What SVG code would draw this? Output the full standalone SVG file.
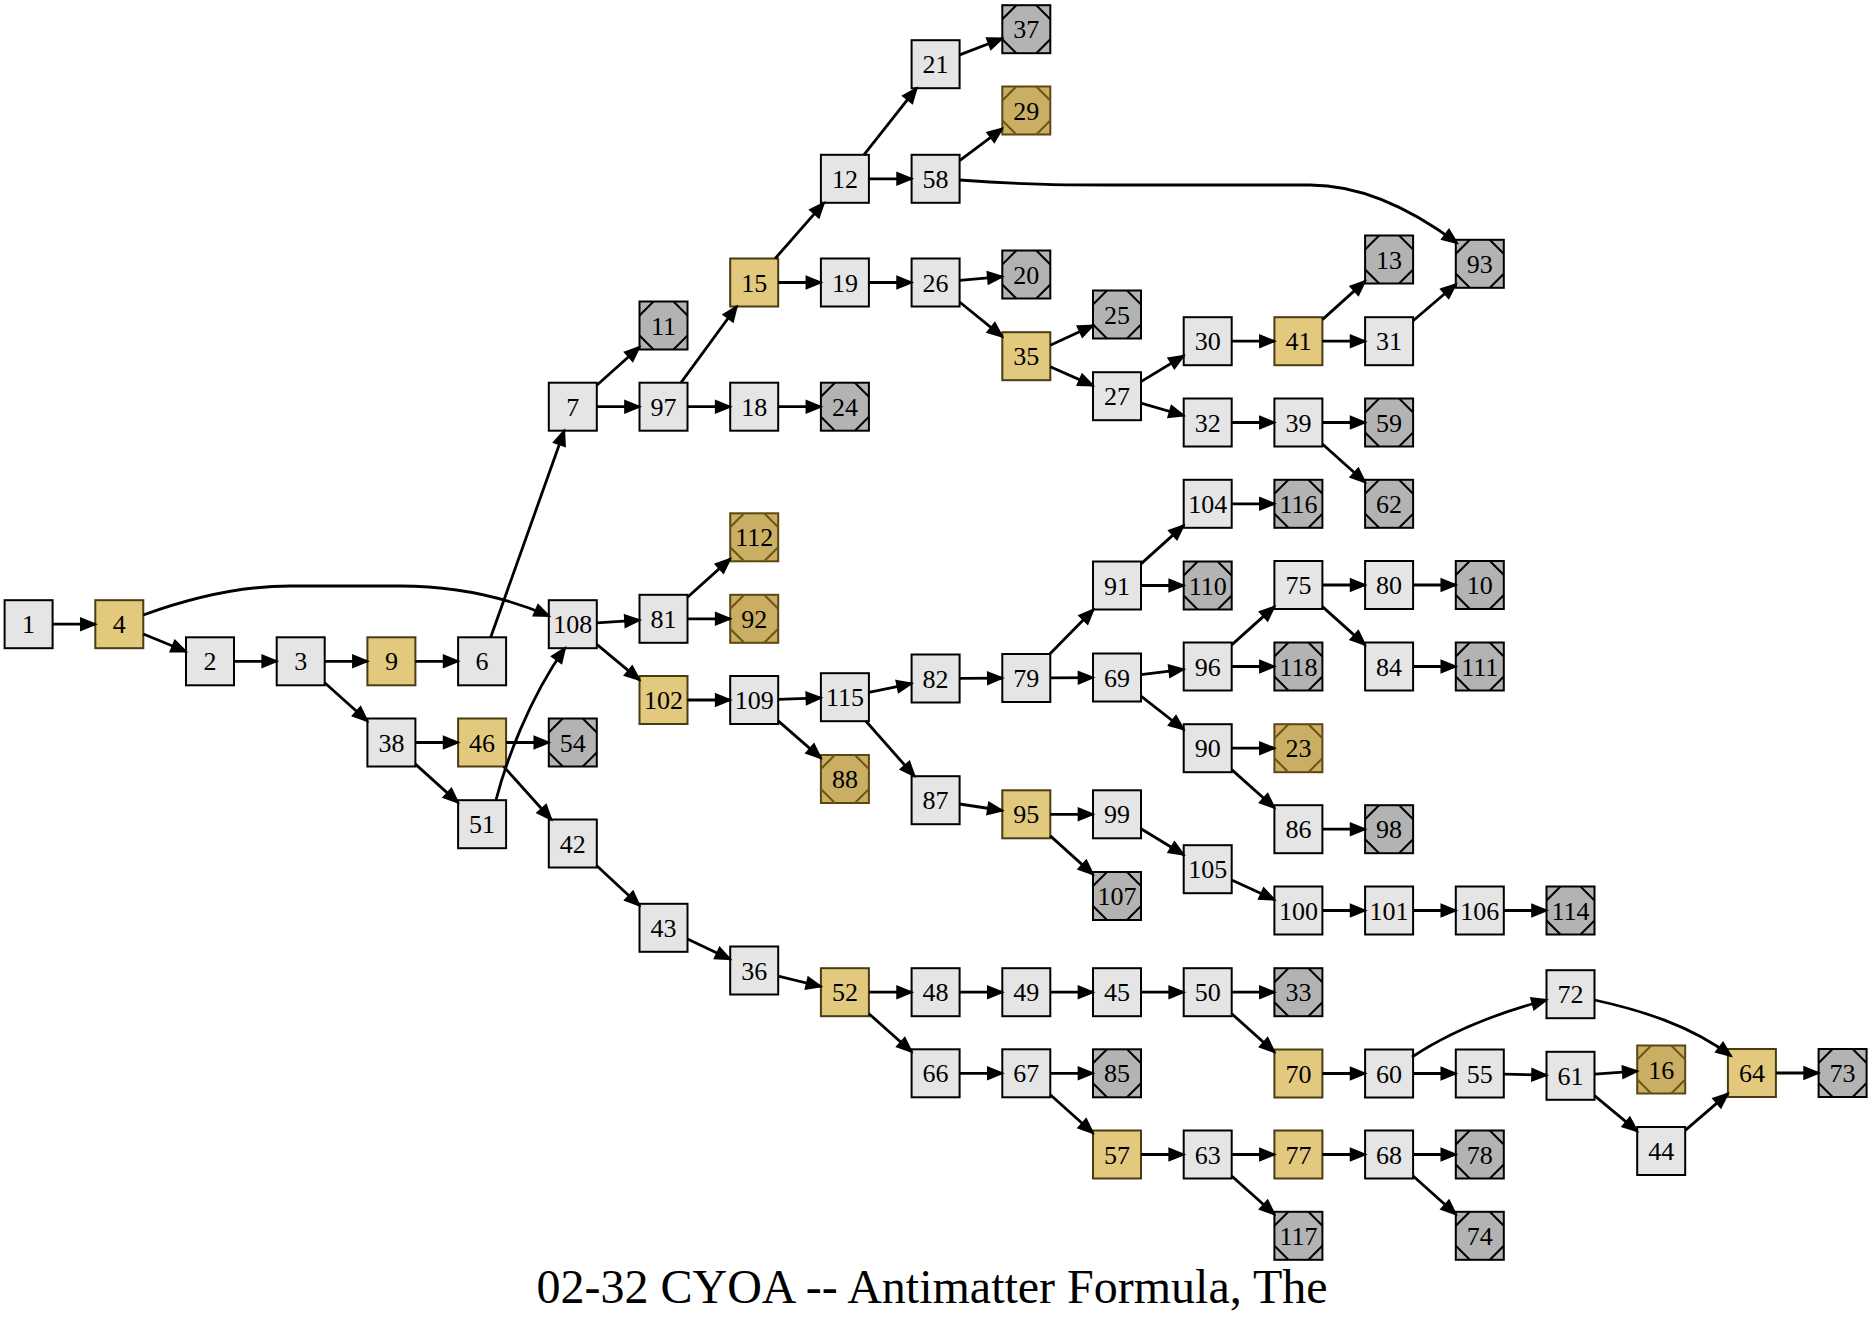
<svg xmlns="http://www.w3.org/2000/svg" width="1872" height="1324" viewBox="0 0 1872 1324">
<defs>
<style>
.b{fill:#e5e5e5;stroke:#000;stroke-width:2}
.y .b{fill:#e2c97e;stroke:#4a3c12}
.g .b{fill:#b3b3b3}
.o .b{fill:#c9ae63;stroke:#5c4712}
.d{fill:none;stroke:#000;stroke-width:2}
.o .d{stroke:#6e5418}
text{font-family:"Liberation Serif","Times New Roman",serif;font-size:26px;text-anchor:middle;fill:#000}
.e{fill:none;stroke:#000;stroke-width:2.8;marker-end:url(#ah)}
</style>
<marker id="ah" markerUnits="userSpaceOnUse" markerWidth="30" markerHeight="20" viewBox="-20 -10 30 20" refX="0" refY="0" orient="auto" overflow="visible">
<path d="M-14,-5.3 L-1,0 L-14,5.3 Z" fill="#000" stroke="#000" stroke-width="2.67"/>
</marker>
<path id="oc" d="M-24,-10 L-10,-24 M10,-24 L24,-10 M24,10 L10,24 M-10,24 L-24,10"/>
</defs>
<rect width="1872" height="1324" fill="#fff"/>
<g id="nodes">
<g id="n1" transform="translate(28.6,624.2)"><rect class="b" x="-24" y="-24" width="48" height="48"/><text y="9">1</text></g>
<g id="n4" class="y" transform="translate(119.3,624.2)"><rect class="b" x="-24" y="-24" width="48" height="48"/><text y="9">4</text></g>
<g id="n2" transform="translate(210,661.3)"><rect class="b" x="-24" y="-24" width="48" height="48"/><text y="9">2</text></g>
<g id="n3" transform="translate(300.7,661.3)"><rect class="b" x="-24" y="-24" width="48" height="48"/><text y="9">3</text></g>
<g id="n9" class="y" transform="translate(391.4,661.3)"><rect class="b" x="-24" y="-24" width="48" height="48"/><text y="9">9</text></g>
<g id="n38" transform="translate(391.4,742.5)"><rect class="b" x="-24" y="-24" width="48" height="48"/><text y="9">38</text></g>
<g id="n6" transform="translate(482.1,661.3)"><rect class="b" x="-24" y="-24" width="48" height="48"/><text y="9">6</text></g>
<g id="n46" class="y" transform="translate(482.1,742.5)"><rect class="b" x="-24" y="-24" width="48" height="48"/><text y="9">46</text></g>
<g id="n51" transform="translate(482.1,824.2)"><rect class="b" x="-24" y="-24" width="48" height="48"/><text y="9">51</text></g>
<g id="n7" transform="translate(572.8,406.7)"><rect class="b" x="-24" y="-24" width="48" height="48"/><text y="9">7</text></g>
<g id="n108" transform="translate(572.8,624.2)"><rect class="b" x="-24" y="-24" width="48" height="48"/><text y="9">108</text></g>
<g id="n54" class="g" transform="translate(572.8,742.5)"><rect class="b" x="-24" y="-24" width="48" height="48"/><use href="#oc" class="d"/><text y="9">54</text></g>
<g id="n42" transform="translate(572.8,843.5)"><rect class="b" x="-24" y="-24" width="48" height="48"/><text y="9">42</text></g>
<g id="n11" class="g" transform="translate(663.5,325.5)"><rect class="b" x="-24" y="-24" width="48" height="48"/><use href="#oc" class="d"/><text y="9">11</text></g>
<g id="n97" transform="translate(663.5,406.7)"><rect class="b" x="-24" y="-24" width="48" height="48"/><text y="9">97</text></g>
<g id="n81" transform="translate(663.5,618.8)"><rect class="b" x="-24" y="-24" width="48" height="48"/><text y="9">81</text></g>
<g id="n102" class="y" transform="translate(663.5,700)"><rect class="b" x="-24" y="-24" width="48" height="48"/><text y="9">102</text></g>
<g id="n43" transform="translate(663.5,927.8)"><rect class="b" x="-24" y="-24" width="48" height="48"/><text y="9">43</text></g>
<g id="n15" class="y" transform="translate(754.2,282.5)"><rect class="b" x="-24" y="-24" width="48" height="48"/><text y="9">15</text></g>
<g id="n18" transform="translate(754.2,406.7)"><rect class="b" x="-24" y="-24" width="48" height="48"/><text y="9">18</text></g>
<g id="n112" class="o" transform="translate(754.2,537.3)"><rect class="b" x="-24" y="-24" width="48" height="48"/><use href="#oc" class="d"/><text y="9">112</text></g>
<g id="n92" class="o" transform="translate(754.2,618.8)"><rect class="b" x="-24" y="-24" width="48" height="48"/><use href="#oc" class="d"/><text y="9">92</text></g>
<g id="n109" transform="translate(754.2,700)"><rect class="b" x="-24" y="-24" width="48" height="48"/><text y="9">109</text></g>
<g id="n36" transform="translate(754.2,970.5)"><rect class="b" x="-24" y="-24" width="48" height="48"/><text y="9">36</text></g>
<g id="n12" transform="translate(844.9,178.8)"><rect class="b" x="-24" y="-24" width="48" height="48"/><text y="9">12</text></g>
<g id="n19" transform="translate(844.9,282.5)"><rect class="b" x="-24" y="-24" width="48" height="48"/><text y="9">19</text></g>
<g id="n24" class="g" transform="translate(844.9,406.7)"><rect class="b" x="-24" y="-24" width="48" height="48"/><use href="#oc" class="d"/><text y="9">24</text></g>
<g id="n115" transform="translate(844.9,697.2)"><rect class="b" x="-24" y="-24" width="48" height="48"/><text y="9">115</text></g>
<g id="n88" class="o" transform="translate(844.9,779)"><rect class="b" x="-24" y="-24" width="48" height="48"/><use href="#oc" class="d"/><text y="9">88</text></g>
<g id="n52" class="y" transform="translate(844.9,992.2)"><rect class="b" x="-24" y="-24" width="48" height="48"/><text y="9">52</text></g>
<g id="n21" transform="translate(935.6,64.2)"><rect class="b" x="-24" y="-24" width="48" height="48"/><text y="9">21</text></g>
<g id="n58" transform="translate(935.6,178.8)"><rect class="b" x="-24" y="-24" width="48" height="48"/><text y="9">58</text></g>
<g id="n26" transform="translate(935.6,282.5)"><rect class="b" x="-24" y="-24" width="48" height="48"/><text y="9">26</text></g>
<g id="n82" transform="translate(935.6,678.5)"><rect class="b" x="-24" y="-24" width="48" height="48"/><text y="9">82</text></g>
<g id="n87" transform="translate(935.6,800.2)"><rect class="b" x="-24" y="-24" width="48" height="48"/><text y="9">87</text></g>
<g id="n48" transform="translate(935.6,992.2)"><rect class="b" x="-24" y="-24" width="48" height="48"/><text y="9">48</text></g>
<g id="n66" transform="translate(935.6,1073.3)"><rect class="b" x="-24" y="-24" width="48" height="48"/><text y="9">66</text></g>
<g id="n37" class="g" transform="translate(1026.3,29.2)"><rect class="b" x="-24" y="-24" width="48" height="48"/><use href="#oc" class="d"/><text y="9">37</text></g>
<g id="n29" class="o" transform="translate(1026.3,110.5)"><rect class="b" x="-24" y="-24" width="48" height="48"/><use href="#oc" class="d"/><text y="9">29</text></g>
<g id="n20" class="g" transform="translate(1026.3,274.5)"><rect class="b" x="-24" y="-24" width="48" height="48"/><use href="#oc" class="d"/><text y="9">20</text></g>
<g id="n35" class="y" transform="translate(1026.3,356.2)"><rect class="b" x="-24" y="-24" width="48" height="48"/><text y="9">35</text></g>
<g id="n79" transform="translate(1026.3,678)"><rect class="b" x="-24" y="-24" width="48" height="48"/><text y="9">79</text></g>
<g id="n95" class="y" transform="translate(1026.3,814.3)"><rect class="b" x="-24" y="-24" width="48" height="48"/><text y="9">95</text></g>
<g id="n49" transform="translate(1026.3,992.2)"><rect class="b" x="-24" y="-24" width="48" height="48"/><text y="9">49</text></g>
<g id="n67" transform="translate(1026.3,1073.3)"><rect class="b" x="-24" y="-24" width="48" height="48"/><text y="9">67</text></g>
<g id="n25" class="g" transform="translate(1117,314.5)"><rect class="b" x="-24" y="-24" width="48" height="48"/><use href="#oc" class="d"/><text y="9">25</text></g>
<g id="n27" transform="translate(1117,396.2)"><rect class="b" x="-24" y="-24" width="48" height="48"/><text y="9">27</text></g>
<g id="n91" transform="translate(1117,585.5)"><rect class="b" x="-24" y="-24" width="48" height="48"/><text y="9">91</text></g>
<g id="n69" transform="translate(1117,677.5)"><rect class="b" x="-24" y="-24" width="48" height="48"/><text y="9">69</text></g>
<g id="n99" transform="translate(1117,814.3)"><rect class="b" x="-24" y="-24" width="48" height="48"/><text y="9">99</text></g>
<g id="n107" class="g" transform="translate(1117,896)"><rect class="b" x="-24" y="-24" width="48" height="48"/><use href="#oc" class="d"/><text y="9">107</text></g>
<g id="n45" transform="translate(1117,992.2)"><rect class="b" x="-24" y="-24" width="48" height="48"/><text y="9">45</text></g>
<g id="n85" class="g" transform="translate(1117,1073.3)"><rect class="b" x="-24" y="-24" width="48" height="48"/><use href="#oc" class="d"/><text y="9">85</text></g>
<g id="n57" class="y" transform="translate(1117,1154.5)"><rect class="b" x="-24" y="-24" width="48" height="48"/><text y="9">57</text></g>
<g id="n30" transform="translate(1207.7,341.2)"><rect class="b" x="-24" y="-24" width="48" height="48"/><text y="9">30</text></g>
<g id="n32" transform="translate(1207.7,422.5)"><rect class="b" x="-24" y="-24" width="48" height="48"/><text y="9">32</text></g>
<g id="n104" transform="translate(1207.7,503.8)"><rect class="b" x="-24" y="-24" width="48" height="48"/><text y="9">104</text></g>
<g id="n110" class="g" transform="translate(1207.7,585.5)"><rect class="b" x="-24" y="-24" width="48" height="48"/><use href="#oc" class="d"/><text y="9">110</text></g>
<g id="n96" transform="translate(1207.7,666.5)"><rect class="b" x="-24" y="-24" width="48" height="48"/><text y="9">96</text></g>
<g id="n90" transform="translate(1207.7,748.2)"><rect class="b" x="-24" y="-24" width="48" height="48"/><text y="9">90</text></g>
<g id="n105" transform="translate(1207.7,869.2)"><rect class="b" x="-24" y="-24" width="48" height="48"/><text y="9">105</text></g>
<g id="n50" transform="translate(1207.7,992.2)"><rect class="b" x="-24" y="-24" width="48" height="48"/><text y="9">50</text></g>
<g id="n63" transform="translate(1207.7,1154.5)"><rect class="b" x="-24" y="-24" width="48" height="48"/><text y="9">63</text></g>
<g id="n41" class="y" transform="translate(1298.4,341.2)"><rect class="b" x="-24" y="-24" width="48" height="48"/><text y="9">41</text></g>
<g id="n39" transform="translate(1298.4,422.5)"><rect class="b" x="-24" y="-24" width="48" height="48"/><text y="9">39</text></g>
<g id="n116" class="g" transform="translate(1298.4,503.8)"><rect class="b" x="-24" y="-24" width="48" height="48"/><use href="#oc" class="d"/><text y="9">116</text></g>
<g id="n75" transform="translate(1298.4,585)"><rect class="b" x="-24" y="-24" width="48" height="48"/><text y="9">75</text></g>
<g id="n118" class="g" transform="translate(1298.4,666.5)"><rect class="b" x="-24" y="-24" width="48" height="48"/><use href="#oc" class="d"/><text y="9">118</text></g>
<g id="n23" class="o" transform="translate(1298.4,748.2)"><rect class="b" x="-24" y="-24" width="48" height="48"/><use href="#oc" class="d"/><text y="9">23</text></g>
<g id="n86" transform="translate(1298.4,829.2)"><rect class="b" x="-24" y="-24" width="48" height="48"/><text y="9">86</text></g>
<g id="n100" transform="translate(1298.4,910.5)"><rect class="b" x="-24" y="-24" width="48" height="48"/><text y="9">100</text></g>
<g id="n33" class="g" transform="translate(1298.4,992.2)"><rect class="b" x="-24" y="-24" width="48" height="48"/><use href="#oc" class="d"/><text y="9">33</text></g>
<g id="n70" class="y" transform="translate(1298.4,1073.5)"><rect class="b" x="-24" y="-24" width="48" height="48"/><text y="9">70</text></g>
<g id="n77" class="y" transform="translate(1298.4,1154.5)"><rect class="b" x="-24" y="-24" width="48" height="48"/><text y="9">77</text></g>
<g id="n117" class="g" transform="translate(1298.4,1235.8)"><rect class="b" x="-24" y="-24" width="48" height="48"/><use href="#oc" class="d"/><text y="9">117</text></g>
<g id="n13" class="g" transform="translate(1389.1,259.5)"><rect class="b" x="-24" y="-24" width="48" height="48"/><use href="#oc" class="d"/><text y="9">13</text></g>
<g id="n31" transform="translate(1389.1,341.2)"><rect class="b" x="-24" y="-24" width="48" height="48"/><text y="9">31</text></g>
<g id="n59" class="g" transform="translate(1389.1,422.5)"><rect class="b" x="-24" y="-24" width="48" height="48"/><use href="#oc" class="d"/><text y="9">59</text></g>
<g id="n62" class="g" transform="translate(1389.1,503.8)"><rect class="b" x="-24" y="-24" width="48" height="48"/><use href="#oc" class="d"/><text y="9">62</text></g>
<g id="n80" transform="translate(1389.1,585)"><rect class="b" x="-24" y="-24" width="48" height="48"/><text y="9">80</text></g>
<g id="n84" transform="translate(1389.1,666.5)"><rect class="b" x="-24" y="-24" width="48" height="48"/><text y="9">84</text></g>
<g id="n98" class="g" transform="translate(1389.1,829.2)"><rect class="b" x="-24" y="-24" width="48" height="48"/><use href="#oc" class="d"/><text y="9">98</text></g>
<g id="n101" transform="translate(1389.1,910.5)"><rect class="b" x="-24" y="-24" width="48" height="48"/><text y="9">101</text></g>
<g id="n60" transform="translate(1389.1,1073.5)"><rect class="b" x="-24" y="-24" width="48" height="48"/><text y="9">60</text></g>
<g id="n68" transform="translate(1389.1,1154.5)"><rect class="b" x="-24" y="-24" width="48" height="48"/><text y="9">68</text></g>
<g id="n93" class="g" transform="translate(1479.8,263.8)"><rect class="b" x="-24" y="-24" width="48" height="48"/><use href="#oc" class="d"/><text y="9">93</text></g>
<g id="n10" class="g" transform="translate(1479.8,585)"><rect class="b" x="-24" y="-24" width="48" height="48"/><use href="#oc" class="d"/><text y="9">10</text></g>
<g id="n111" class="g" transform="translate(1479.8,666.5)"><rect class="b" x="-24" y="-24" width="48" height="48"/><use href="#oc" class="d"/><text y="9">111</text></g>
<g id="n106" transform="translate(1479.8,910.5)"><rect class="b" x="-24" y="-24" width="48" height="48"/><text y="9">106</text></g>
<g id="n55" transform="translate(1479.8,1073.5)"><rect class="b" x="-24" y="-24" width="48" height="48"/><text y="9">55</text></g>
<g id="n78" class="g" transform="translate(1479.8,1154.5)"><rect class="b" x="-24" y="-24" width="48" height="48"/><use href="#oc" class="d"/><text y="9">78</text></g>
<g id="n74" class="g" transform="translate(1479.8,1235.8)"><rect class="b" x="-24" y="-24" width="48" height="48"/><use href="#oc" class="d"/><text y="9">74</text></g>
<g id="n114" class="g" transform="translate(1570.5,910.5)"><rect class="b" x="-24" y="-24" width="48" height="48"/><use href="#oc" class="d"/><text y="9">114</text></g>
<g id="n72" transform="translate(1570.5,994.2)"><rect class="b" x="-24" y="-24" width="48" height="48"/><text y="9">72</text></g>
<g id="n61" transform="translate(1570.5,1075.8)"><rect class="b" x="-24" y="-24" width="48" height="48"/><text y="9">61</text></g>
<g id="n16" class="o" transform="translate(1661.2,1069.5)"><rect class="b" x="-24" y="-24" width="48" height="48"/><use href="#oc" class="d"/><text y="9">16</text></g>
<g id="n44" transform="translate(1661.2,1151)"><rect class="b" x="-24" y="-24" width="48" height="48"/><text y="9">44</text></g>
<g id="n64" class="y" transform="translate(1751.9,1073)"><rect class="b" x="-24" y="-24" width="48" height="48"/><text y="9">64</text></g>
<g id="n73" class="g" transform="translate(1842.6,1073)"><rect class="b" x="-24" y="-24" width="48" height="48"/><use href="#oc" class="d"/><text y="9">73</text></g>
</g>
<g id="edges">
<path class="e" d="M52.6,624.2 L95.3,624.2"/>
<path class="e" d="M143.3,634 L186,651.5"/>
<path class="e" d="M143.3,615 C190,598 240,586 290,586 L400,586 C455,586 505,597 549,616"/>
<path class="e" d="M234,661.3 L276.7,661.3"/>
<path class="e" d="M324.7,661.3 L367.4,661.3"/>
<path class="e" d="M324.7,682.8 L367.4,721"/>
<path class="e" d="M415.4,661.3 L458.1,661.3"/>
<path class="e" d="M490.7,637.3 L564.2,430.7"/>
<path class="e" d="M415.4,742.5 L458.1,742.5"/>
<path class="e" d="M415.4,764.1 L458.1,802.6"/>
<path class="e" d="M506.1,742.5 L548.8,742.5"/>
<path class="e" d="M503.7,766.5 L551.3,819.5"/>
<path class="e" d="M496,800 C505,765 528,700 565,648"/>
<path class="e" d="M596.8,385.2 L639.5,347"/>
<path class="e" d="M596.8,406.7 L639.5,406.7"/>
<path class="e" d="M681,382.7 L736.7,306.5"/>
<path class="e" d="M687.5,406.7 L730.2,406.7"/>
<path class="e" d="M778.2,406.7 L820.9,406.7"/>
<path class="e" d="M775.2,258.5 L823.9,202.8"/>
<path class="e" d="M778.2,282.5 L820.9,282.5"/>
<path class="e" d="M863.9,154.8 L916.6,88.2"/>
<path class="e" d="M868.9,178.8 L911.6,178.8"/>
<path class="e" d="M959.6,54.9 L1002.3,38.5"/>
<path class="e" d="M959.6,160.7 L1002.3,128.6"/>
<path class="e" d="M959.6,180 C1030,185 1070,185 1110,185 L1310,185 C1360,185 1410,208 1457,243"/>
<path class="e" d="M868.9,282.5 L911.6,282.5"/>
<path class="e" d="M959.6,280.4 L1002.3,276.6"/>
<path class="e" d="M959.6,302 L1002.3,336.7"/>
<path class="e" d="M1050.3,345.2 L1093,325.5"/>
<path class="e" d="M1050.3,366.8 L1093,385.6"/>
<path class="e" d="M1141,381.6 L1183.7,355.8"/>
<path class="e" d="M1141,403.2 L1183.7,415.5"/>
<path class="e" d="M1231.7,341.2 L1274.4,341.2"/>
<path class="e" d="M1322.4,319.6 L1365.1,281.1"/>
<path class="e" d="M1322.4,341.2 L1365.1,341.2"/>
<path class="e" d="M1413.1,320.7 L1455.8,284.3"/>
<path class="e" d="M1231.7,422.5 L1274.4,422.5"/>
<path class="e" d="M1322.4,422.5 L1365.1,422.5"/>
<path class="e" d="M1322.4,444 L1365.1,482.3"/>
<path class="e" d="M596.8,622.8 L639.5,620.2"/>
<path class="e" d="M596.8,644.3 L639.5,679.9"/>
<path class="e" d="M687.5,597.2 L730.2,558.9"/>
<path class="e" d="M687.5,618.8 L730.2,618.8"/>
<path class="e" d="M687.5,700 L730.2,700"/>
<path class="e" d="M778.2,699.3 L820.9,697.9"/>
<path class="e" d="M778.2,720.9 L820.9,758.1"/>
<path class="e" d="M868.9,692.3 L911.6,683.6"/>
<path class="e" d="M866,721.2 L914.5,776.2"/>
<path class="e" d="M959.6,678.4 L1002.3,678.1"/>
<path class="e" d="M1049.8,654 L1093.5,609.5"/>
<path class="e" d="M1050.3,677.9 L1093,677.6"/>
<path class="e" d="M1141,563.9 L1183.7,525.4"/>
<path class="e" d="M1141,585.5 L1183.7,585.5"/>
<path class="e" d="M1231.7,503.8 L1274.4,503.8"/>
<path class="e" d="M1141,674.6 L1183.7,669.4"/>
<path class="e" d="M1141,696.2 L1183.7,729.5"/>
<path class="e" d="M1231.7,644.9 L1274.4,606.6"/>
<path class="e" d="M1231.7,666.5 L1274.4,666.5"/>
<path class="e" d="M1322.4,585 L1365.1,585"/>
<path class="e" d="M1322.4,606.6 L1365.1,644.9"/>
<path class="e" d="M1413.1,585 L1455.8,585"/>
<path class="e" d="M1413.1,666.5 L1455.8,666.5"/>
<path class="e" d="M1231.7,748.2 L1274.4,748.2"/>
<path class="e" d="M1231.7,769.6 L1274.4,807.8"/>
<path class="e" d="M1322.4,829.2 L1365.1,829.2"/>
<path class="e" d="M959.6,804 L1002.3,810.5"/>
<path class="e" d="M1050.3,814.3 L1093,814.3"/>
<path class="e" d="M1050.3,835.9 L1093,874.4"/>
<path class="e" d="M1141,828.8 L1183.7,854.7"/>
<path class="e" d="M1231.7,880.1 L1274.4,899.6"/>
<path class="e" d="M1322.4,910.5 L1365.1,910.5"/>
<path class="e" d="M1413.1,910.5 L1455.8,910.5"/>
<path class="e" d="M1503.8,910.5 L1546.5,910.5"/>
<path class="e" d="M596.8,865.8 L639.5,905.5"/>
<path class="e" d="M687.5,939.1 L730.2,959.2"/>
<path class="e" d="M778.2,976.2 L820.9,986.5"/>
<path class="e" d="M868.9,992.2 L911.6,992.2"/>
<path class="e" d="M868.9,1013.7 L911.6,1051.8"/>
<path class="e" d="M959.6,992.2 L1002.3,992.2"/>
<path class="e" d="M1050.3,992.2 L1093,992.2"/>
<path class="e" d="M1141,992.2 L1183.7,992.2"/>
<path class="e" d="M1231.7,992.2 L1274.4,992.2"/>
<path class="e" d="M1231.7,1013.7 L1274.4,1052"/>
<path class="e" d="M1322.4,1073.5 L1365.1,1073.5"/>
<path class="e" d="M1412,1057 C1445,1035 1490,1015 1546.5,1000"/>
<path class="e" d="M1413.1,1073.5 L1455.8,1073.5"/>
<path class="e" d="M1503.8,1074.1 L1546.5,1075.2"/>
<path class="e" d="M1594.5,1074.1 L1637.2,1071.2"/>
<path class="e" d="M1594.5,1095.7 L1637.2,1131.1"/>
<path class="e" d="M1594.5,1000 C1640,1010 1690,1025 1731,1056"/>
<path class="e" d="M1685.2,1130.4 L1727.9,1093.6"/>
<path class="e" d="M1775.9,1073 L1818.6,1073"/>
<path class="e" d="M959.6,1073.3 L1002.3,1073.3"/>
<path class="e" d="M1050.3,1073.3 L1093,1073.3"/>
<path class="e" d="M1050.3,1094.8 L1093,1133"/>
<path class="e" d="M1141,1154.5 L1183.7,1154.5"/>
<path class="e" d="M1231.7,1154.5 L1274.4,1154.5"/>
<path class="e" d="M1231.7,1176 L1274.4,1214.3"/>
<path class="e" d="M1322.4,1154.5 L1365.1,1154.5"/>
<path class="e" d="M1413.1,1154.5 L1455.8,1154.5"/>
<path class="e" d="M1413.1,1176 L1455.8,1214.3"/>
</g>
<text id="title" x="932" y="1303" style="font-size:48px">02-32 CYOA -- Antimatter Formula, The</text>
</svg>
